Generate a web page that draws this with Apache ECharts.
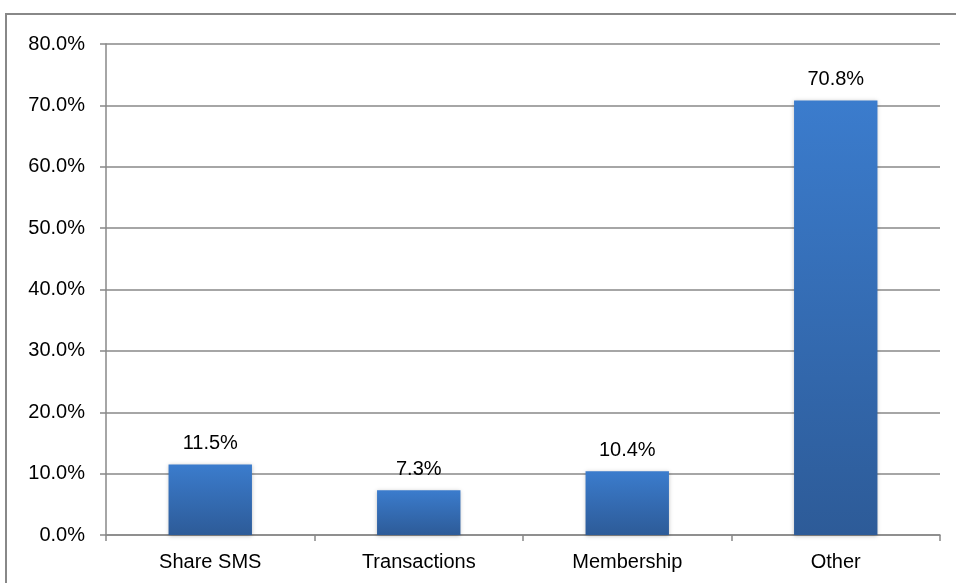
<!DOCTYPE html>
<html>
<head>
<meta charset="utf-8">
<style>
  html, body { margin: 0; padding: 0; background: #fff; }
  #chart { width: 956px; height: 583px; }
</style>
<script src="https://cdn.jsdelivr.net/npm/echarts@6/dist/echarts.min.js"></script>
</head>
<body>
<div id="chart"></div>
<script>
// Share of usage by category (percent)
const categories = ['Share SMS', 'Transactions', 'Membership', 'Other'];
const shares = [11.5, 7.3, 10.4, 70.8];
const yTicks = { min: 0, max: 80, interval: 10 };

const chart = echarts.init(document.getElementById('chart'), null, { renderer: 'canvas' });
const font = 'Liberation Sans, Arial, sans-serif';
const gray = '#888888';

chart.setOption({
  animation: false,
  backgroundColor: '#ffffff',
  graphic: [{
    type: 'rect',
    shape: { x: 6, y: 14, width: 960, height: 600 },
    style: { fill: 'none', stroke: gray, lineWidth: 2 },
    silent: true
  }],
  grid: { left: 106, right: 16, top: 44, bottom: 48, containLabel: false },
  xAxis: {
    type: 'category',
    data: categories,
    axisLine: { lineStyle: { color: gray, width: 1.5 } },
    axisTick: { show: true, length: 6, lineStyle: { color: gray, width: 1.5 } },
    axisLabel: { color: '#000', fontFamily: font, fontSize: 20, margin: 17 }
  },
  yAxis: {
    type: 'value',
    min: yTicks.min,
    max: yTicks.max,
    interval: yTicks.interval,
    axisLine: { show: true, lineStyle: { color: gray, width: 1.5 } },
    axisTick: { show: true, length: 6, lineStyle: { color: gray, width: 1.5 } },
    splitLine: { lineStyle: { color: gray, width: 1.5 } },
    axisLabel: {
      color: '#000', fontFamily: font, fontSize: 20, margin: 21,
      formatter: v => v.toFixed(1) + '%'
    }
  },
  series: [{
    type: 'bar',
    data: shares,
    barWidth: '40%',
    itemStyle: {
      color: new echarts.graphic.LinearGradient(0, 0, 0, 1, [
        { offset: 0, color: '#3b7ccd' },
        { offset: 1, color: '#2d5b98' }
      ]),
      shadowBlur: 4,
      shadowColor: 'rgba(0,0,0,0.25)',
      shadowOffsetY: 1
    },
    label: {
      show: true,
      position: 'top',
      distance: 11,
      color: '#000',
      fontFamily: font,
      fontSize: 20,
      formatter: p => p.value.toFixed(1) + '%'
    }
  }]
});
</script>
</body>
</html>
